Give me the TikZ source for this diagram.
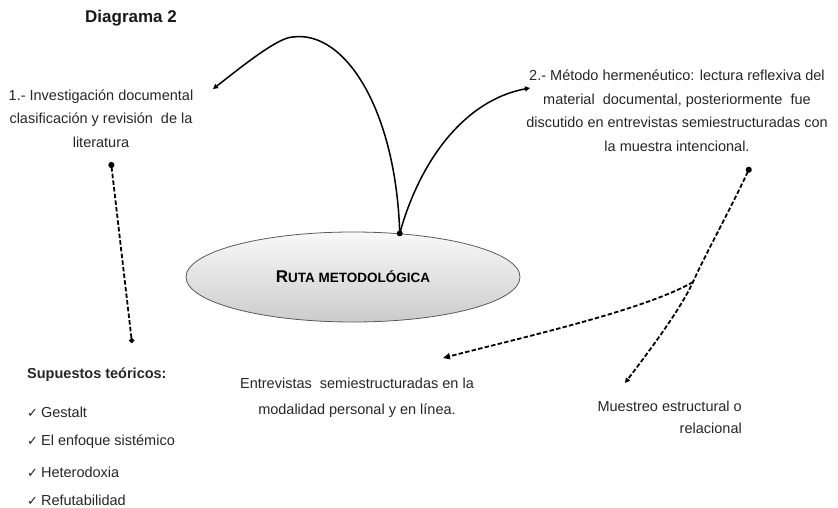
\documentclass[tikz,border=0pt]{standalone}
\usepackage{fontspec}
\setmainfont{Liberation Sans}
\newfontfamily\symfont{DejaVu Sans}
\usetikzlibrary{arrows.meta,shapes.geometric}
\newcommand{\chk}{{\symfont\fontsize{13}{10}\selectfont ✓}\hspace{3pt}}
\begin{document}
\begin{tikzpicture}[x=1pt,y=-1pt,
  txt/.style={text=black!85,font=\fontsize{14.5}{23.5}\selectfont,align=center,inner sep=0pt},
  item/.style={text=black!85,font=\fontsize{14.5}{16}\selectfont,anchor=west,inner sep=0pt},
  guion/.style={line width=1.8pt,dash pattern=on 4.5pt off 2.2pt},
  flecha/.style={line width=1.5pt,-{Triangle[length=5pt,width=5pt]}}]
\useasboundingbox (0,0) rectangle (838,508);

\node[text=black!90,font=\bfseries\fontsize{17}{20}\selectfont] (titulo) at (131,18) {Diagrama 2};
\node[txt] (doc1) at (101,118.5) {1.- Investigación documental\\clasificación y revisión \ de la\\literatura};
\node[txt] (doc2) at (677,110.5) {2.- Método hermenéutico: lectura reflexiva del\\material \ documental, posteriormente \ fue\\discutido en entrevistas semiestructuradas con\\la muestra intencional.};
\node[ellipse,draw=black!65,line width=0.8pt,top color=gray!5,bottom color=gray!40,
  minimum width=334pt,minimum height=90pt] (ruta) at (353,277)
  {\bfseries\fontsize{17}{18}\selectfont R\fontsize{13.5}{18}\selectfont UTA METODOLÓGICA};
\node[txt,font=\fontsize{14.5}{25.5}\selectfont] (entrev) at (357,397.5) {Entrevistas \ semiestructuradas en la\\modalidad personal y en línea.};
\node[txt,align=right,anchor=east,font=\fontsize{14.5}{22}\selectfont] (muestreo) at (742,417) {Muestreo estructural o\\relacional};

\node[item,font=\bfseries\fontsize{14.5}{16}\selectfont] (supuestos) at (27,375) {Supuestos teóricos:};
\node[item] (gestalt) at (27,412) {\chk Gestalt};
\node[item] (enfoque) at (27,442) {\chk El enfoque sistémico};
\node[item] (hetero) at (27,472) {\chk Heterodoxia};
\node[item] (refuta) at (27,500) {\chk Refutabilidad};

\coordinate (hub) at (ruta.43);
\coordinate (p1) at (213,89);
\coordinate (p2) at (530,88);
\coordinate (lit) at (111,162);
\coordinate (sup) at (132,343);
\coordinate (m1) at (750,167);
\coordinate (cruce) at (693,282);
\coordinate (m2) at (625,383);
\coordinate (p3) at (443,358);

\draw[flecha] (hub) .. controls (396,110) and (345,30) .. (293,37) .. controls (278,37) and (240,68) .. (p1);
\draw[flecha] (hub) .. controls (420,160) and (465,100) .. (p2);
\fill (hub) circle (3pt);

\draw[guion,{Circle[length=6pt]}-{Circle[length=5pt]}] (lit) -- (sup);
\draw[guion,{Circle[length=6pt]}-{Triangle[length=5pt,width=5pt]}] (m1) .. controls (730,210) and (705,255) .. (cruce) .. controls (680,310) and (650,350) .. (m2);
\draw[guion,-{Triangle[length=7pt,width=6pt]}] (cruce) .. controls (645,310) and (520,338) .. (p3);
\end{tikzpicture}
\end{document}
